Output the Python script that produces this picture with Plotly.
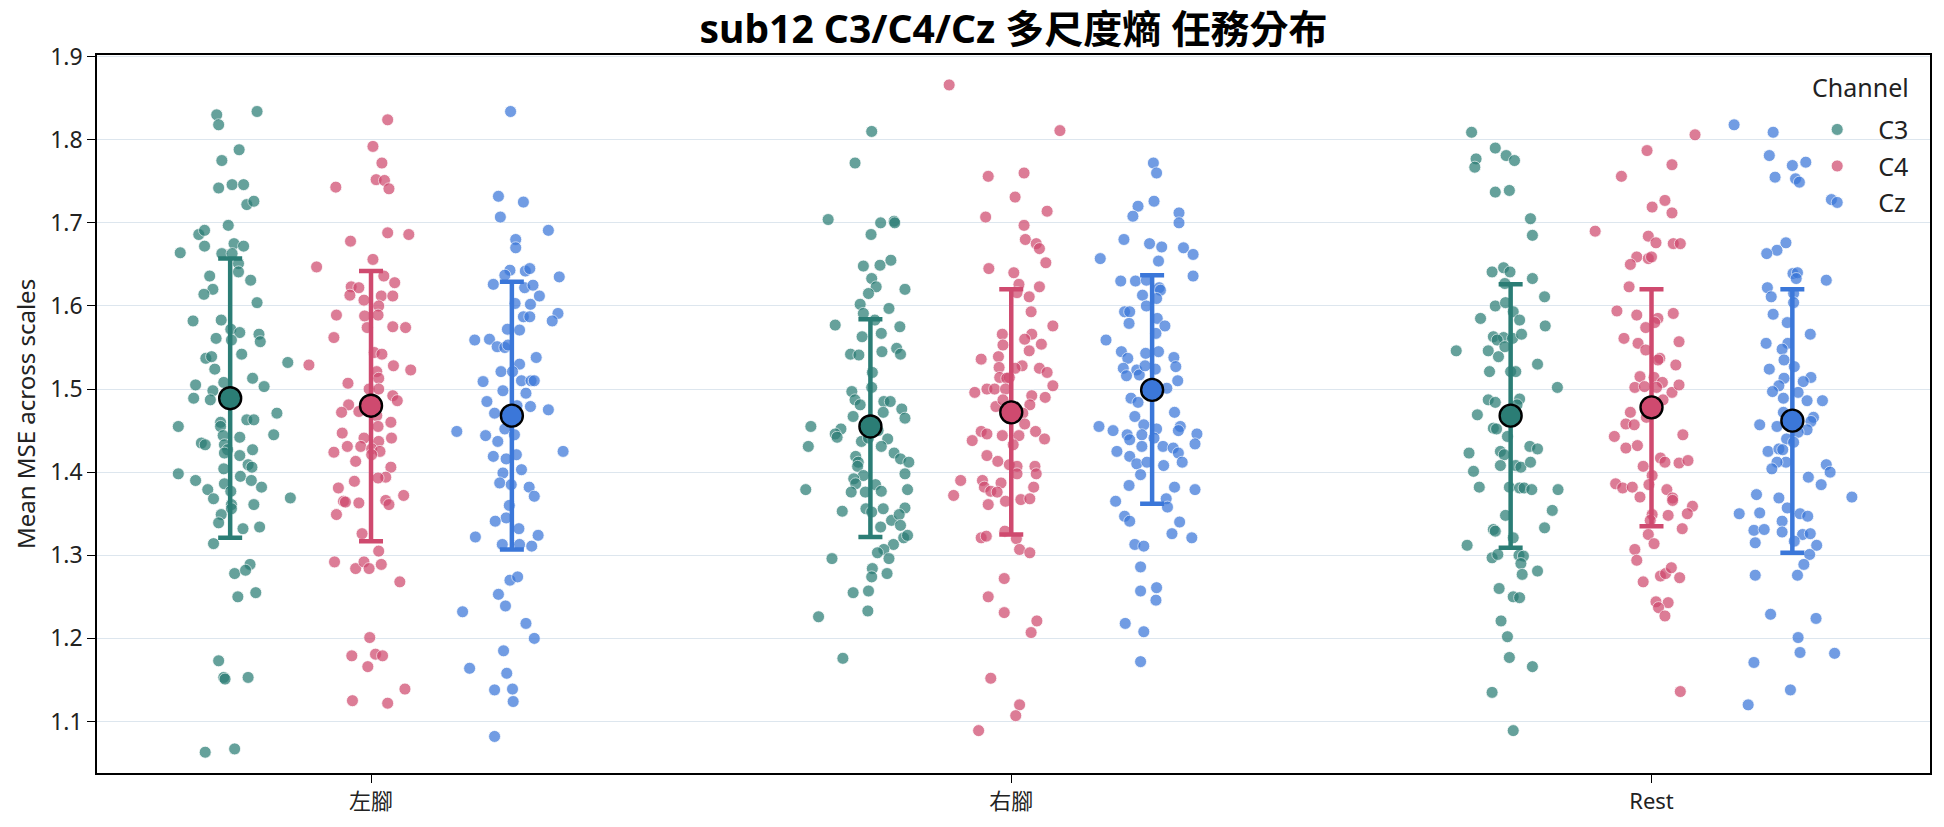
import numpy as np
import plotly.graph_objects as go

# ---------------- data ----------------
groups = ["左腳", "右腳", "Rest"]
channels = ["C3", "C4", "Cz"]

# 左腳
lf_c3 = [1.830,1.818,1.834,1.788,1.775,1.742,1.746,1.746,1.722,1.726,1.697,1.686,1.691,1.672,1.664,1.675,1.672,1.663,1.663,1.651,1.641,1.636,1.631,1.620,1.614,1.604,1.582,1.583,1.572,1.568,1.566,1.557,1.561,1.559,1.537,1.539,1.542,1.532,1.524,1.513,1.505,1.508,1.503,1.489,1.498,1.487,1.455,1.460,1.455,1.463,1.463,1.471,1.445,1.435,1.433,1.444,1.433,1.442,1.427,1.427,1.420,1.423,1.409,1.406,1.398,1.404,1.395,1.390,1.390,1.386,1.382,1.379,1.368,1.377,1.369,1.361,1.361,1.356,1.349,1.339,1.332,1.334,1.314,1.289,1.278,1.282,1.250,1.255,1.173,1.153,1.151,1.153,1.063,1.067]
jit_lf_c3 = [-0.021,-0.018,0.042,0.014,-0.013,-0.018,0.003,0.021,0.026,0.037,-0.003,-0.049,-0.040,-0.040,-0.078,0.006,0.021,-0.013,0.003,0.013,0.013,-0.032,0.032,-0.027,-0.041,0.042,-0.058,-0.014,0.001,0.015,0.045,0.047,-0.022,0.002,-0.038,-0.029,0.018,0.090,-0.024,0.035,-0.054,-0.010,0.053,-0.057,-0.027,-0.031,-0.081,-0.015,-0.015,0.026,0.037,0.073,0.068,-0.045,-0.039,-0.011,-0.009,0.015,-0.004,0.035,0.015,-0.009,0.028,0.034,-0.081,-0.010,0.016,0.033,-0.054,-0.009,0.049,-0.035,-0.026,0.001,0.094,0.002,0.037,0.002,-0.014,-0.018,0.020,0.046,-0.026,0.031,0.007,0.024,0.012,0.040,-0.018,-0.010,-0.008,0.028,-0.039,0.007]

lf_c4 = [1.824,1.792,1.772,1.743,1.752,1.751,1.741,1.688,1.686,1.678,1.656,1.647,1.636,1.628,1.623,1.622,1.613,1.612,1.612,1.607,1.600,1.589,1.588,1.589,1.575,1.574,1.574,1.562,1.544,1.542,1.529,1.528,1.523,1.521,1.513,1.507,1.500,1.500,1.492,1.486,1.481,1.473,1.472,1.468,1.460,1.447,1.455,1.441,1.437,1.441,1.431,1.431,1.428,1.424,1.425,1.413,1.421,1.406,1.394,1.389,1.393,1.381,1.372,1.365,1.364,1.363,1.366,1.361,1.349,1.326,1.305,1.292,1.284,1.292,1.284,1.289,1.268,1.201,1.179,1.181,1.179,1.166,1.125,1.122,1.139]
jit_lf_c4 = [0.026,0.003,0.017,-0.055,0.008,0.021,0.028,0.026,0.059,-0.032,0.003,-0.085,0.020,0.037,-0.031,-0.019,-0.033,0.016,0.034,-0.011,0.012,-0.054,-0.010,0.011,0.034,0.054,-0.006,-0.058,0.005,0.017,-0.097,0.035,0.062,0.009,0.012,-0.036,-0.003,0.012,0.034,0.041,-0.035,-0.019,-0.046,0.009,0.031,-0.045,0.011,-0.011,0.012,0.032,-0.037,-0.016,0.001,-0.058,0.014,-0.024,0.001,0.031,0.023,-0.026,0.011,-0.051,0.051,-0.043,-0.040,-0.019,0.023,0.028,-0.054,-0.014,0.012,-0.057,-0.024,-0.011,-0.003,0.016,0.045,-0.002,-0.030,0.007,0.018,-0.005,-0.029,0.026,0.053]

lf_cz = [1.834,1.732,1.725,1.707,1.691,1.680,1.670,1.643,1.637,1.642,1.645,1.635,1.626,1.622,1.625,1.612,1.603,1.602,1.591,1.582,1.587,1.587,1.572,1.571,1.559,1.560,1.551,1.550,1.553,1.538,1.530,1.521,1.521,1.509,1.510,1.510,1.510,1.498,1.495,1.485,1.479,1.475,1.471,1.480,1.449,1.452,1.445,1.444,1.437,1.425,1.419,1.416,1.421,1.403,1.399,1.387,1.385,1.382,1.371,1.360,1.345,1.341,1.332,1.322,1.324,1.313,1.313,1.311,1.270,1.274,1.253,1.239,1.232,1.218,1.200,1.185,1.164,1.158,1.138,1.139,1.124,1.082]
jit_lf_cz = [-0.002,-0.021,0.018,-0.018,0.057,0.006,0.006,-0.003,-0.011,0.021,0.028,0.074,-0.029,0.020,0.033,0.043,0.005,0.029,0.072,0.063,0.018,0.028,-0.007,0.012,-0.058,-0.035,-0.023,-0.011,-0.006,0.038,0.012,-0.017,0.001,-0.045,0.015,0.030,0.035,-0.014,0.022,-0.039,0.029,0.057,-0.027,0.008,-0.086,-0.011,0.004,-0.041,-0.022,0.080,-0.029,-0.009,0.007,0.015,-0.014,-0.019,-0.001,0.027,0.035,-0.004,-0.009,-0.026,0.011,-0.057,0.041,-0.015,0.012,0.031,-0.003,0.009,-0.021,-0.010,-0.077,0.022,0.035,-0.013,-0.066,-0.008,-0.027,0.001,0.002,-0.027]

# 右腳
rf_c3 = [1.810,1.772,1.704,1.700,1.702,1.700,1.686,1.648,1.649,1.655,1.633,1.623,1.615,1.620,1.602,1.597,1.591,1.583,1.577,1.567,1.563,1.575,1.542,1.541,1.545,1.549,1.542,1.520,1.502,1.497,1.487,1.481,1.485,1.485,1.472,1.476,1.465,1.467,1.455,1.452,1.446,1.442,1.437,1.441,1.440,1.450,1.431,1.431,1.419,1.412,1.423,1.416,1.412,1.407,1.396,1.398,1.392,1.386,1.379,1.376,1.376,1.385,1.377,1.379,1.353,1.356,1.352,1.356,1.342,1.334,1.357,1.349,1.336,1.321,1.324,1.313,1.307,1.303,1.296,1.296,1.284,1.274,1.278,1.255,1.257,1.233,1.226,1.176]
jit_rf_c3 = [0.002,-0.024,-0.066,0.016,0.037,0.038,0.001,-0.011,0.015,0.032,0.002,0.009,-0.003,0.054,-0.016,0.029,-0.011,0.007,-0.055,0.017,-0.013,0.046,-0.031,-0.018,0.018,0.041,0.047,0.003,0.002,-0.029,-0.024,-0.016,0.021,0.031,0.020,0.049,0.054,-0.027,-0.093,-0.046,-0.055,-0.052,-0.014,-0.003,0.027,0.012,0.017,-0.097,-0.023,-0.019,0.037,0.047,0.060,-0.020,-0.011,0.054,-0.026,-0.023,-0.101,-0.030,-0.008,0.008,0.017,0.058,-0.044,-0.007,0.002,0.020,0.033,0.016,0.054,0.045,0.047,0.052,0.058,0.036,0.021,0.011,0.029,-0.060,0.003,0.002,0.026,-0.027,-0.003,-0.004,-0.081,-0.043]

rf_c4 = [1.866,1.811,1.756,1.760,1.731,1.707,1.714,1.697,1.680,1.675,1.669,1.652,1.645,1.640,1.626,1.616,1.611,1.623,1.593,1.576,1.566,1.566,1.560,1.553,1.554,1.546,1.536,1.539,1.526,1.528,1.525,1.525,1.520,1.514,1.514,1.513,1.504,1.496,1.500,1.500,1.500,1.492,1.490,1.479,1.487,1.481,1.471,1.458,1.449,1.446,1.444,1.444,1.449,1.440,1.438,1.433,1.420,1.413,1.409,1.407,1.407,1.398,1.398,1.390,1.390,1.387,1.382,1.377,1.376,1.382,1.372,1.365,1.367,1.368,1.361,1.329,1.321,1.323,1.320,1.307,1.303,1.272,1.250,1.231,1.221,1.207,1.152,1.120,1.107,1.089]
jit_rf_c4 = [-0.097,0.076,-0.036,0.020,0.006,-0.040,0.056,0.020,0.022,0.039,0.044,0.054,-0.035,0.004,0.012,0.009,0.028,0.044,0.031,0.065,-0.014,0.032,0.021,-0.013,0.047,0.028,-0.047,-0.020,-0.019,0.017,0.006,0.044,0.056,-0.018,-0.003,-0.007,0.065,-0.057,-0.038,-0.026,-0.009,0.032,0.053,-0.024,-0.013,0.029,0.018,0.021,-0.047,-0.038,-0.014,0.012,0.038,0.052,-0.061,0.003,-0.038,-0.021,-0.003,0.009,0.037,0.039,0.009,-0.079,-0.045,-0.016,-0.042,-0.032,-0.022,0.035,-0.090,-0.009,0.015,0.029,-0.036,-0.010,-0.047,-0.039,0.008,0.013,0.029,-0.011,-0.036,-0.011,0.040,0.031,-0.032,0.013,0.007,-0.051]

rf_cz = [1.772,1.760,1.720,1.708,1.726,1.712,1.700,1.680,1.675,1.671,1.670,1.657,1.662,1.654,1.636,1.630,1.630,1.631,1.622,1.619,1.613,1.609,1.600,1.593,1.593,1.579,1.585,1.576,1.567,1.559,1.545,1.537,1.543,1.545,1.538,1.527,1.525,1.523,1.516,1.517,1.524,1.528,1.510,1.501,1.489,1.484,1.495,1.472,1.467,1.457,1.455,1.450,1.445,1.439,1.445,1.452,1.441,1.455,1.450,1.446,1.434,1.431,1.431,1.429,1.425,1.419,1.423,1.412,1.410,1.412,1.408,1.397,1.384,1.382,1.379,1.368,1.358,1.365,1.347,1.341,1.340,1.326,1.321,1.313,1.311,1.286,1.257,1.261,1.246,1.218,1.208,1.172]
jit_rf_cz = [0.002,0.007,-0.022,-0.030,0.003,0.042,0.042,-0.044,-0.004,0.015,0.049,-0.081,0.064,0.010,0.064,-0.049,-0.026,-0.009,0.011,0.013,-0.015,0.007,-0.009,-0.043,-0.035,-0.036,0.008,0.020,0.006,-0.072,-0.048,-0.038,-0.010,0.010,0.034,0.037,-0.045,-0.024,-0.040,-0.020,0.005,-0.011,0.040,0.023,-0.033,-0.022,0.008,0.035,-0.027,-0.013,-0.083,-0.061,-0.039,-0.035,-0.016,0.007,0.003,0.044,0.041,0.070,0.067,-0.016,0.017,0.033,-0.055,-0.035,0.041,0.047,-0.024,-0.008,0.018,-0.018,-0.036,0.035,0.067,0.022,0.024,-0.057,-0.043,-0.035,0.043,0.031,0.062,-0.027,-0.013,-0.018,-0.018,0.007,0.006,-0.042,-0.013,-0.018]

# Rest
rs_c3 = [1.809,1.790,1.777,1.767,1.781,1.775,1.737,1.739,1.705,1.685,1.641,1.646,1.641,1.627,1.633,1.611,1.600,1.604,1.593,1.585,1.583,1.576,1.563,1.562,1.561,1.566,1.559,1.546,1.546,1.539,1.551,1.530,1.521,1.521,1.521,1.502,1.487,1.484,1.488,1.469,1.481,1.453,1.452,1.443,1.423,1.425,1.421,1.431,1.428,1.401,1.408,1.408,1.406,1.412,1.382,1.382,1.381,1.381,1.379,1.379,1.354,1.348,1.331,1.329,1.333,1.321,1.312,1.297,1.301,1.300,1.299,1.290,1.281,1.277,1.260,1.250,1.249,1.221,1.202,1.177,1.166,1.135,1.089]
jit_rs_c3 = [-0.061,-0.024,-0.054,-0.056,-0.007,0.006,-0.024,-0.002,0.031,0.034,-0.029,-0.011,-0.001,-0.009,0.034,0.053,-0.024,-0.008,0.004,-0.047,0.014,0.054,-0.027,-0.011,0.003,0.017,-0.021,-0.085,-0.035,-0.019,-0.009,0.042,-0.033,0.000,0.008,0.073,-0.035,-0.024,0.014,-0.052,0.010,-0.027,-0.022,-0.005,-0.065,-0.016,-0.010,0.030,0.042,-0.058,-0.016,0.008,0.016,0.031,-0.049,-0.002,0.014,0.021,0.033,0.074,0.065,-0.008,-0.027,-0.024,0.053,0.004,-0.068,-0.029,-0.020,0.013,0.020,0.016,0.042,0.018,-0.018,0.004,0.014,-0.015,-0.005,-0.002,0.034,-0.029,0.004]

rs_c4 = [1.806,1.787,1.770,1.756,1.719,1.727,1.712,1.690,1.684,1.676,1.675,1.675,1.659,1.650,1.657,1.659,1.623,1.594,1.589,1.591,1.585,1.580,1.574,1.561,1.555,1.557,1.547,1.537,1.535,1.529,1.515,1.514,1.508,1.502,1.503,1.502,1.496,1.505,1.487,1.472,1.458,1.457,1.466,1.443,1.445,1.429,1.432,1.417,1.412,1.411,1.414,1.407,1.396,1.386,1.381,1.382,1.385,1.370,1.379,1.369,1.366,1.359,1.350,1.348,1.349,1.342,1.332,1.325,1.314,1.307,1.294,1.268,1.275,1.278,1.285,1.273,1.244,1.243,1.237,1.227,1.136]
jit_rs_c4 = [0.068,-0.007,0.032,-0.047,0.001,0.021,0.032,-0.088,-0.005,0.007,0.034,0.045,-0.023,-0.033,-0.005,0.000,-0.035,-0.054,-0.023,0.034,0.010,0.005,-0.009,-0.043,-0.021,0.043,-0.009,0.013,0.010,0.038,-0.018,0.004,0.017,-0.026,-0.011,0.008,0.032,0.043,0.018,-0.033,-0.040,-0.027,-0.008,-0.058,0.049,-0.040,-0.022,0.014,0.021,0.043,0.057,-0.013,0.001,-0.056,-0.045,-0.030,-0.004,-0.018,0.024,0.033,0.033,0.064,0.056,0.026,0.001,-0.002,0.048,-0.005,0.004,-0.026,-0.023,-0.013,0.014,0.022,0.031,0.044,0.007,0.026,0.011,0.021,0.045]

rs_cz = [1.818,1.809,1.781,1.769,1.773,1.755,1.753,1.749,1.728,1.676,1.667,1.663,1.631,1.639,1.640,1.633,1.622,1.611,1.615,1.604,1.590,1.580,1.566,1.555,1.555,1.548,1.535,1.524,1.527,1.514,1.509,1.513,1.504,1.497,1.496,1.489,1.486,1.486,1.472,1.466,1.457,1.455,1.461,1.451,1.448,1.440,1.436,1.425,1.428,1.427,1.412,1.412,1.404,1.409,1.400,1.394,1.385,1.373,1.369,1.370,1.357,1.350,1.351,1.350,1.347,1.341,1.330,1.331,1.328,1.325,1.326,1.315,1.317,1.312,1.301,1.289,1.276,1.276,1.229,1.224,1.201,1.183,1.182,1.171,1.138,1.120]
jit_rs_cz = [-0.091,-0.030,-0.036,0.000,0.021,-0.027,0.005,0.011,0.061,-0.010,-0.024,-0.040,0.053,0.001,0.008,0.006,-0.039,-0.033,0.002,0.002,-0.030,-0.008,0.028,-0.041,-0.007,-0.016,-0.013,-0.036,0.003,0.029,0.017,-0.013,-0.021,-0.031,0.009,-0.014,0.023,0.047,-0.014,0.033,-0.051,-0.024,0.029,0.023,0.009,-0.009,0.002,-0.038,-0.021,-0.015,-0.010,-0.024,-0.032,0.053,0.059,0.025,0.045,-0.056,-0.021,0.093,-0.008,-0.083,-0.051,0.012,0.024,-0.016,-0.060,-0.044,-0.016,0.016,0.028,-0.058,0.003,0.038,0.027,0.018,-0.058,0.008,-0.034,0.037,0.009,0.012,0.066,-0.060,-0.003,-0.069]

# summary (mean and error-bar ends), per group [左腳, 右腳, Rest]
mean_c3 = [1.489, 1.455, 1.468]
low_c3 = [1.321, 1.322, 1.309]
high_c3 = [1.657, 1.584, 1.626]
mean_c4 = [1.480, 1.472, 1.478]
low_c4 = [1.317, 1.325, 1.335]
high_c4 = [1.642, 1.620, 1.620]
mean_cz = [1.468, 1.499, 1.462]
low_cz = [1.307, 1.362, 1.303]
high_cz = [1.629, 1.637, 1.620]

data = {
    "C3": [lf_c3, rf_c3, rs_c3],
    "C4": [lf_c4, rf_c4, rs_c4],
    "Cz": [lf_cz, rf_cz, rs_cz],
}
jitter = {
    "C3": [jit_lf_c3, jit_rf_c3, jit_rs_c3],
    "C4": [jit_lf_c4, jit_rf_c4, jit_rs_c4],
    "Cz": [jit_lf_cz, jit_rf_cz, jit_rs_cz],
}
summary = {
    "C3": (mean_c3, low_c3, high_c3),
    "C4": (mean_c4, low_c4, high_c4),
    "Cz": (mean_cz, low_cz, high_cz),
}

# ---------------- style ----------------
colors = {"C3": "#2b7d75", "C4": "#cf4a6f", "Cz": "#3b77d9"}
dodge = {"C3": -0.22, "C4": 0.0, "Cz": 0.22}
FONT = "Noto Sans, Noto Sans CJK TC"

fig = go.Figure()

for ch in channels:
    xs, ys = [], []
    for gi in range(len(groups)):
        for v, j in zip(data[ch][gi], jitter[ch][gi]):
            xs.append(gi + dodge[ch] + j)
            ys.append(v)
    fig.add_trace(go.Scatter(
        x=xs, y=ys, mode="markers", name=ch, legendgroup=ch,
        marker=dict(size=12, color=colors[ch], opacity=0.72,
                    line=dict(color="white", width=0.8)),
        hoverinfo="skip",
    ))

for ch in channels:
    m, lo, hi = summary[ch]
    mx = [gi + dodge[ch] for gi in range(len(groups))]
    up = [h - a for h, a in zip(hi, m)]
    dn = [a - l for a, l in zip(m, lo)]
    fig.add_trace(go.Scatter(
        x=mx, y=m, mode="markers", showlegend=False, legendgroup=ch,
        marker=dict(size=22, color=colors[ch], line=dict(color="black", width=2.4)),
        error_y=dict(type="data", symmetric=False, array=up, arrayminus=dn,
                     visible=True, color=colors[ch], thickness=4.5, width=12),
        hoverinfo="skip",
    ))

fig.update_layout(
    width=1944, height=827,
    margin=dict(l=97, r=14, t=55, b=52),
    paper_bgcolor="white", plot_bgcolor="white",
    font=dict(family=FONT, size=22, color="#222"),
    title=dict(text="<b>sub12 C3/C4/Cz 多尺度熵 任務分布</b>", x=0.5, xref="paper",
               xanchor="center", y=0.964, yref="container", yanchor="middle",
               font=dict(family=FONT, size=39, color="black")),
    legend=dict(x=0.927, xanchor="left", y=0.928, yanchor="top",
                font=dict(size=25), bgcolor="rgba(0,0,0,0)",
                tracegroupgap=1, itemwidth=72),
    showlegend=True,
    annotations=[dict(text="Channel", xref="paper", yref="paper", x=0.9896, y=0.9556,
                      xanchor="right", yanchor="middle", showarrow=False,
                      font=dict(family=FONT, size=25, color="#222"))],
)
fig.update_xaxes(
    range=[-0.428, 2.435], tickvals=[0, 1, 2], ticktext=groups,
    showgrid=False, zeroline=False, showline=True, mirror=True,
    linecolor="black", linewidth=1.5, ticks="outside", ticklen=8,
    tickcolor="black", tickfont=dict(size=22),
)
fig.update_yaxes(
    range=[1.038, 1.902], tickvals=[1.1, 1.2, 1.3, 1.4, 1.5, 1.6, 1.7, 1.8, 1.9],
    tickformat=".1f", showgrid=True, gridcolor="#dde6ee", gridwidth=1,
    zeroline=False, showline=True, mirror=True, linecolor="black", linewidth=1.5,
    ticks="outside", ticklen=8, tickcolor="black", tickfont=dict(size=23),
    title=dict(text="Mean MSE across scales", font=dict(size=24), standoff=8),
)

fig.write_html("out.html")
